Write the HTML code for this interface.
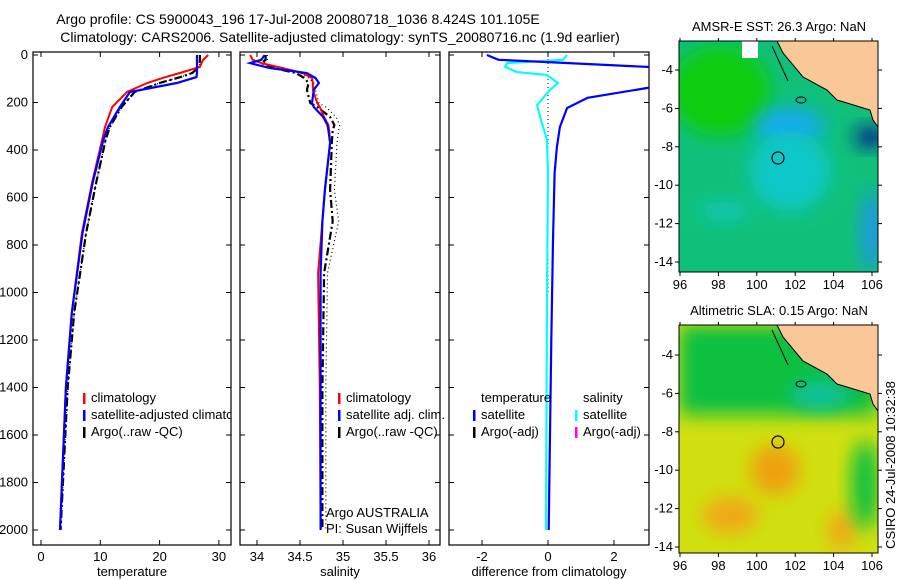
<!DOCTYPE html>
<html><head><meta charset="utf-8">
<style>
body{margin:0;background:#fff;}
svg{display:block;font-family:"Liberation Sans",sans-serif;}
text{font-size:13px;fill:#000;}
</style></head>
<body>
<svg id="c" width="900" height="580" viewBox="0 0 900 580" xmlns="http://www.w3.org/2000/svg">
<defs>
<clipPath id="cp1"><rect x="33" y="52" width="198" height="493"/></clipPath>
<clipPath id="cp2"><rect x="240" y="52" width="200" height="493"/></clipPath>
<clipPath id="cp3"><rect x="449" y="52" width="200" height="493"/></clipPath>
<clipPath id="cm1"><rect x="679" y="41" width="199" height="231"/></clipPath>
<clipPath id="cm2"><rect x="679" y="325" width="199" height="228"/></clipPath>
<filter id="bl" x="-50%" y="-50%" width="200%" height="200%"><feGaussianBlur stdDeviation="9"/></filter>
</defs>
<text x="298" y="24" text-anchor="middle" style="font-size:14px">Argo profile: CS 5900043_196 17-Jul-2008 20080718_1036 8.424S 101.105E</text>
<text x="340" y="42" text-anchor="middle" style="font-size:14px">Climatology: CARS2006. Satellite-adjusted climatology: synTS_20080716.nc (1.9d earlier)</text>
<g id="g"></g>
</svg>
<script>
// depth axis
const depthTicks=[0,200,400,600,800,1000,1200,1400,1600,1800,2000];
// temperature profiles
const tDepth=[0,21,50,76,93,118,156,219,303,358,539,750,1086,1400,2000];
const tClim=[28.2,27.3,26.8,23.4,21.0,17.9,14.5,12.0,10.8,10.3,8.6,6.9,5.2,4.2,3.2];
const tSat=[26.3,26.3,26.3,26.3,26.2,22.9,15.0,13.3,11.3,10.5,8.7,7.0,5.2,4.2,3.2];
const tArgo=[26.8,26.8,26.7,25.5,23.5,20.0,15.8,13.6,11.6,10.9,9.3,7.6,5.6,4.5,3.3];
const tTicks=[0,10,20,30];
// salinity profiles
const sDepth=[0,20,34,55,76,97,118,147,202,219,261,295,316,370,568,700,918,1400,2000];
const sClim=[33.92,33.95,34.05,34.3,34.53,34.64,34.65,34.65,34.7,34.73,34.78,34.83,34.84,34.85,34.79,34.76,34.71,34.73,34.74];
const sSat=[34.09,34.05,33.92,34.15,34.58,34.68,34.72,34.66,34.64,34.66,34.77,34.82,34.83,34.85,34.79,34.76,34.74,34.74,34.74];
const sArgo=[34.1,34.1,34.05,34.2,34.45,34.55,34.6,34.58,34.62,34.7,34.85,34.9,34.88,34.87,34.85,34.88,34.78,34.76,34.76];
const sRaw=[34.12,34.12,34.08,34.25,34.5,34.6,34.66,34.68,34.72,34.8,34.92,34.96,34.95,34.93,34.9,34.95,34.82,34.8,34.8];
const sTicks=[34,34.5,35,35.5,36];
// differences
const dDepthT=[0,20,30,50,76,100,120,139,180,223,303,387,497,780,1200,2000];
const dTemp=[-1.85,-1.5,0,3.0,5.0,5.0,3.5,3.0,1.2,0.58,0.36,0.27,0.2,0.15,0.1,0.02];
const dDepthS=[0,20,34,50,72,84,118,147,211,261,358,500,1000,2000];
const dSal=[0.58,0.45,-1.24,-1.3,-0.94,-0.03,0.3,0.06,-0.33,-0.24,-0.03,0.0,-0.03,-0.06];
const dTicks=[-2,0,2];
const lonTicks=[96,98,100,102,104,106];
const latTicks=[-4,-6,-8,-10,-12,-14];

const NS="http://www.w3.org/2000/svg";
const G=document.getElementById('g');
function mk(t,a,p){const e=document.createElementNS(NS,t);for(const k in a)e.setAttribute(k,a[k]);(p||G).appendChild(e);return e;}
function txt(x,y,s,anchor,p){const e=mk('text',{x:x,y:y,'text-anchor':anchor||'start'},p);e.textContent=s;return e;}
const yD=d=>55+d*0.2375;
const xT=v=>41+v*5.93, xS=v=>257+(v-34)*86, xDf=v=>548+v*33;
const TOP=52;

function panel(x0,w,name,ticks,xf,label){
  const r=mk('rect',{x:x0,y:TOP,width:w,height:545-TOP,fill:'none',stroke:'#000','stroke-width':1.2});
  
  
  depthTicks.forEach(d=>{mk('line',{x1:x0,x2:x0+5,y1:yD(d),y2:yD(d),stroke:'#000'});mk('line',{x1:x0+w-5,x2:x0+w,y1:yD(d),y2:yD(d),stroke:'#000'});});
  ticks.forEach(v=>{const x=xf(v);mk('line',{x1:x,x2:x,y1:TOP,y2:TOP+5,stroke:'#000'});mk('line',{x1:x,x2:x,y1:540,y2:545,stroke:'#000'});
    const t=txt(x,561,String(v),'middle');});
  const l=txt(x0+w/2,576,label,'middle');
  
  
}
panel(33,198,'temperature-panel',tTicks,xT,'temperature');
panel(240,200,'salinity-panel',sTicks,xS,'salinity');
panel(449,200,'difference-panel',dTicks,xDf,'difference from climatology');
depthTicks.forEach(d=>{const t=txt(28,yD(d)+4,String(d),'end');});

function line(depths,vals,xf,col,w,dash,clip,name){
  const pts=depths.map((d,i)=>xf(vals[i]).toFixed(1)+','+yD(d).toFixed(1)).join(' ');
  const a={points:pts,fill:'none',stroke:col,'stroke-width':w,'clip-path':'url(#'+clip+')'};
  if(dash)a['stroke-dasharray']=dash;
  const e=mk('polyline',a);
  
  
}
line(tDepth,tArgo,xT,'#000',1.2,'1 2','cp1','temp-argo-raw-line');
line(tDepth,tArgo,xT,'#000',2.2,'8 3 2 3','cp1','temp-argo-line');
line(tDepth,tClim,xT,'#f00',2,null,'cp1','temp-climatology-line');
line(tDepth,tSat,xT,'#00f',2.2,null,'cp1','temp-satellite-line');
line(sDepth,sRaw,xS,'#000',1.2,'1 3','cp2','sal-argo-raw-line');
line(sDepth,sArgo,xS,'#000',2.2,'8 3 2 3','cp2','sal-argo-line');
line(sDepth,sClim,xS,'#f00',2,null,'cp2','sal-climatology-line');
line(sDepth,sSat,xS,'#00f',2.2,null,'cp2','sal-satellite-line');
const z=mk('line',{x1:xDf(0),x2:xDf(0),y1:yD(0),y2:yD(1000),stroke:'#000','stroke-dasharray':'1 3'});


line(dDepthS,dSal,xDf,'#0ff',2.2,null,'cp3','salinity-difference-line');
line(dDepthT,dTemp,xDf,'#00f',2.2,null,'cp3','temperature-difference-line');

function leg(x,y,col,label,name){
  const m=mk('rect',{x:x,y:y-9,width:2.5,height:11,fill:col});
  
  
  if(label){const t=txt(x+8,y,label,'start');}
}
const cl1=mk('g',{'clip-path':'url(#cp1)'});
[[402,'#f00','climatology'],[419,'#00f','satellite-adjusted climatology'],[436,'#000','Argo(..raw -QC)']].forEach(a=>{
  const m=mk('rect',{x:83,y:a[0]-9,width:2.5,height:11,fill:a[1]},cl1);
  
  
  const t=txt(91,a[0],a[2],'start',cl1);
  
  
});
leg(338,402,'#f00','climatology','sal-legend-climatology');
leg(338,419,'#00f','satellite adj. clim.','sal-legend-satellite');
leg(338,436,'#000','Argo(..raw -QC)','sal-legend-argo');
let t=txt(326,517,'Argo AUSTRALIA');
t=txt(326,533,'PI: Susan Wijffels');
t=txt(481,402,'temperature');
t=txt(583,402,'salinity');
leg(473,419,'#00f','satellite','diff-legend-temp-satellite');
leg(473,436,'#000','Argo(-adj)','diff-legend-temp-argo');
leg(575,419,'#0ff','satellite','diff-legend-sal-satellite');
leg(575,436,'#f0f','Argo(-adj)','diff-legend-sal-argo');

// maps
const landPts=[[777,41],[783,53],[803,77],[827,90],[837,100],[847,103],[860,107],[870,110],[873,120],[878,127],[878,41]];
function map(y0,h,cp,name,title,kind,latY0){
  const g=mk('g',{'clip-path':'url(#'+cp+')'});
  
  
  const off=y0-41;
  if(kind==='sst'){
    mk('rect',{x:679,y:y0,width:199,height:h,fill:'#10c07a'},g);
    mk('ellipse',{cx:720,cy:y0+50,rx:50,ry:45,fill:'#10cc10',filter:'url(#bl)'},g);
    mk('ellipse',{cx:790,cy:y0+85,rx:35,ry:18,fill:'#18a8f0',filter:'url(#bl)'},g);
    mk('ellipse',{cx:790,cy:y0+130,rx:40,ry:40,fill:'#10c8c8',filter:'url(#bl)'},g);
    mk('ellipse',{cx:725,cy:y0+170,rx:25,ry:10,fill:'#10c8b8',filter:'url(#bl)'},g);
    mk('ellipse',{cx:872,cy:y0+190,rx:10,ry:40,fill:'#2090f0',filter:'url(#bl)'},g);
    mk('ellipse',{cx:870,cy:y0+96,rx:15,ry:10,fill:'#001890',filter:'url(#bl)'},g);
    mk('rect',{x:742,y:y0,width:16,height:17,fill:'#fff'},g);
  } else {
    mk('rect',{x:679,y:y0,width:199,height:h,fill:'#d0e010'},g);
    mk('rect',{x:679,y:y0,width:199,height:90,fill:'#10c040',filter:'url(#bl)'},g);
    mk('ellipse',{cx:820,cy:y0+70,rx:30,ry:14,fill:'#10c0a0',filter:'url(#bl)'},g);
    mk('ellipse',{cx:775,cy:y0+145,rx:25,ry:25,fill:'#f0a010',filter:'url(#bl)'},g);
    mk('ellipse',{cx:730,cy:y0+190,rx:28,ry:18,fill:'#f0a818',filter:'url(#bl)'},g);
    mk('ellipse',{cx:842,cy:y0+205,rx:14,ry:20,fill:'#f0a818',filter:'url(#bl)'},g);
    mk('ellipse',{cx:865,cy:y0+160,rx:14,ry:45,fill:'#10c040',filter:'url(#bl)'},g);
  }
  mk('polygon',{points:landPts.map(p=>p[0]+','+(p[1]+off)).join(' '),fill:'#f9c896',stroke:'#000','stroke-width':1},g);
  mk('ellipse',{cx:801,cy:y0+59,rx:5,ry:3,fill:'none',stroke:'#000'},g);
  mk('line',{x1:772,y1:y0+5,x2:788,y2:y0+40,stroke:'#000'},g);
  mk('circle',{cx:778,cy:y0+117,r:6,fill:'none',stroke:'#000','stroke-width':1.2},g);
  const f=mk('rect',{x:679,y:y0,width:199,height:h,fill:'none',stroke:'#000'});
  
  
  const tt=txt(779,y0-10,title,'middle');
  
  
  lonTicks.forEach(v=>{const x=680+(v-96)*19.2;mk('line',{x1:x,x2:x,y1:y0+h,y2:y0+h+4,stroke:'#000'});mk('line',{x1:x,x2:x,y1:y0,y2:y0-3,stroke:'#000'});
    const l=txt(x,y0+h+17,String(v),'middle');});
  latTicks.forEach(v=>{const y=latY0+(-4-v)*19.2;mk('line',{x1:675,x2:679,y1:y,y2:y,stroke:'#000'});mk('line',{x1:878,x2:882,y1:y,y2:y,stroke:'#000'});
    const l=txt(673,y+4,String(v),'end');});
}
map(41,231,'cm1','sst-map','AMSR-E SST: 26.3 Argo: NaN','sst',70);
map(325,228,'cm2','sla-map','Altimetric SLA: 0.15 Argo: NaN','sla',355);
t=txt(0,0,'CSIRO 24-Jul-2008 10:32:38','middle');
t.setAttribute('transform','translate(895,465) rotate(-90)');


</script>
</body></html>
